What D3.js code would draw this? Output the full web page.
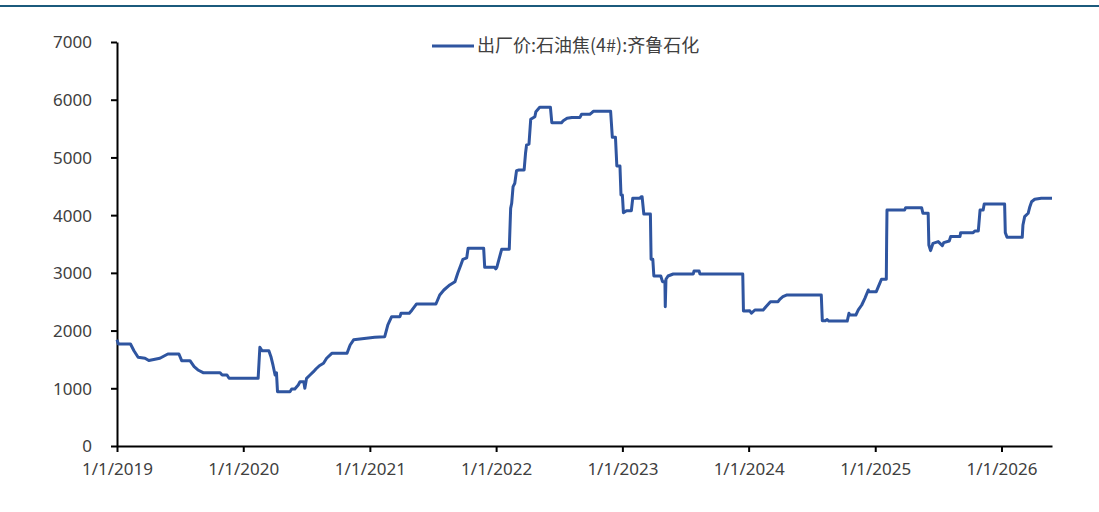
<!DOCTYPE html>
<html><head><meta charset="utf-8">
<script src="https://cdn.jsdelivr.net/npm/d3@7"></script>
<style>
html,body{margin:0;padding:0;background:#fff;}
svg{display:block;font-family:"Noto Sans CJK SC","Noto Sans",sans-serif;}
</style></head>
<body>
<svg id="c" width="1099" height="512"></svg>
<script>
const seriesName = "出厂价:石油焦(4#):齐鲁石化";
const dates = ["2019-01-01","2019-01-05","2019-02-09","2019-02-19","2019-03-03","2019-03-23","2019-04-03","2019-05-05","2019-05-28","2019-06-29","2019-07-07","2019-07-31","2019-08-12","2019-08-23","2019-09-07","2019-10-26","2019-11-01","2019-11-15","2019-11-21",
"2020-02-13","2020-02-18","2020-02-24","2020-03-15","2020-03-21","2020-03-27","2020-04-02","2020-04-06","2020-04-09","2020-05-15","2020-05-20","2020-05-29","2020-06-08","2020-06-13","2020-06-24","2020-06-27","2020-07-02","2020-07-12","2020-07-22","2020-07-29","2020-08-08","2020-08-20","2020-08-29","2020-09-13","2020-10-27","2020-11-05","2020-11-15",
"2021-01-15","2021-02-13","2021-02-22","2021-03-05","2021-03-29","2021-04-01","2021-04-25","2021-05-03","2021-05-16","2021-07-11","2021-07-22","2021-08-03","2021-08-20","2021-09-04","2021-09-12","2021-09-21","2021-09-27","2021-10-08","2021-10-12","2021-11-26","2021-11-29","2021-12-28","2021-12-31",
"2022-01-03","2022-01-17","2022-02-08","2022-02-12","2022-02-15","2022-02-19","2022-02-24","2022-03-01","2022-03-08","2022-03-23","2022-03-27","2022-03-30","2022-04-06","2022-04-11","2022-04-23","2022-04-26","2022-05-07","2022-06-07","2022-06-11","2022-07-09","2022-07-14","2022-07-25","2022-08-08","2022-08-31","2022-09-05","2022-09-29","2022-10-05","2022-10-09","2022-11-28","2022-12-03","2022-12-12","2022-12-16","2022-12-25","2022-12-28",
"2023-01-01","2023-01-04","2023-01-13","2023-01-27","2023-01-31","2023-02-20","2023-02-25","2023-02-27","2023-03-04","2023-03-23","2023-03-25","2023-03-30","2023-04-02","2023-04-22","2023-04-27","2023-05-04","2023-05-05","2023-05-07","2023-05-13","2023-05-28","2023-07-25","2023-07-27","2023-08-11","2023-08-13","2023-12-15","2023-12-17",
"2024-01-04","2024-01-09","2024-01-19","2024-02-12","2024-02-20","2024-03-04","2024-03-26","2024-03-31","2024-04-09","2024-04-21","2024-07-29","2024-08-01","2024-08-10","2024-08-15","2024-08-20","2024-10-12","2024-10-17","2024-10-20","2024-11-06","2024-11-13","2024-11-23","2024-12-02","2024-12-12","2024-12-14",
"2025-01-04","2025-01-14","2025-01-19","2025-02-02","2025-02-03","2025-02-04","2025-03-27","2025-03-30","2025-05-15","2025-05-19","2025-06-03","2025-06-05","2025-06-10","2025-06-17","2025-07-02","2025-07-14","2025-07-18","2025-08-03","2025-08-07","2025-09-03","2025-09-05","2025-10-11","2025-10-16","2025-10-26","2025-10-31","2025-11-09","2025-11-12",
"2026-01-10","2026-01-12","2026-01-17","2026-03-02","2026-03-04","2026-03-09","2026-03-19","2026-03-24","2026-03-29","2026-04-07","2026-04-26","2026-05-27"];
const values = [1840,1767,1767,1650,1537,1520,1480,1520,1594,1594,1478,1478,1374,1317,1270,1270,1230,1230,1173,
1173,1710,1652,1652,1548,1400,1230,1270,941,941,988,988,1057,1114,1114,1000,1173,1230,1288,1334,1391,1433,1520,1606,1606,1750,1840,
1883,1895,2100,2241,2241,2299,2299,2357,2461,2461,2617,2703,2790,2847,2993,3136,3235,3260,3425,3425,3096,3096,3070,
3096,3408,3408,4118,4205,4494,4552,4771,4783,4783,5072,5216,5230,5661,5706,5793,5869,5869,5602,5602,5637,5678,5690,5690,5748,5748,5776,5800,5800,5349,5349,4852,4852,4349,
4349,4043,4078,4078,4292,4292,4320,4320,4020,4020,3235,3235,2946,2946,2847,2847,2414,2889,2946,2980,2980,3032,3032,2980,2980,2339,
2345,2300,2357,2357,2414,2500,2500,2542,2587,2617,2617,2171,2171,2190,2165,2165,2299,2270,2270,2357,2443,2559,2703,2674,
2674,2819,2889,2889,3582,4089,4089,4130,4130,4032,4032,3483,3385,3512,3541,3471,3523,3552,3628,3628,3697,3697,3726,3726,4089,4089,4193,
4193,3697,3616,3616,3830,3974,4032,4147,4233,4275,4292,4292];
const xTickDates = ["2019-01-01","2020-01-01","2021-01-01","2022-01-01","2023-01-01","2024-01-01","2025-01-01","2026-01-01"];
const yTicks = [0,1000,2000,3000,4000,5000,6000,7000];
const xStart = "2019-01-01", xEnd = "2026-05-27";

const parse = d3.utcParse("%Y-%m-%d");
const data = dates.map((d,i)=>({date:parse(d), value:values[i]}));

const svg = d3.select("#c");
const W = 1099, H = 512;
const mLeft = 117, mRight = 1052, mTop = 42, mBottom = 446;

// top rule
svg.append("line").attr("x1",0).attr("x2",W).attr("y1",6).attr("y2",6)
  .attr("stroke","#1b5a7c").attr("stroke-width",2);

const x = d3.scaleUtc().domain([parse(xStart), parse(xEnd)]).range([mLeft, mRight]);
const y = d3.scaleLinear().domain([0,7000]).range([mBottom, mTop]);

const fmt = d3.utcFormat("%-m/%-d/%Y");

const xAxis = svg.append("g").attr("transform",`translate(0,${mBottom})`)
  .call(d3.axisBottom(x).tickValues(xTickDates.map(parse)).tickFormat(fmt).tickSize(6).tickSizeOuter(0).tickPadding(11));
const yAxis = svg.append("g").attr("transform",`translate(${mLeft},0)`)
  .call(d3.axisLeft(y).tickValues(yTicks).tickFormat(d3.format("d")).tickSize(6).tickSizeOuter(0).tickPadding(19));

[xAxis,yAxis].forEach(g=>{
  g.select(".domain").attr("stroke","#000").attr("stroke-width",2);
  g.selectAll(".tick line").attr("stroke","#000").attr("stroke-width",2);
  g.selectAll(".tick text").attr("fill","#404040").style("font-size","17px")
   .style("font-family",'"Noto Sans","Noto Sans CJK SC",sans-serif');
});
yAxis.selectAll(".tick text").attr("dy","0.35em");

const line = d3.line().x(d=>x(d.date)).y(d=>y(d.value));
svg.append("path").datum(data).attr("d",line)
  .attr("fill","none").attr("stroke","#2f55a0").attr("stroke-width",3).attr("stroke-linejoin","round");

// legend
const lg = svg.append("g");
lg.append("line").attr("x1",432).attr("x2",474).attr("y1",46).attr("y2",46)
  .attr("stroke","#2f55a0").attr("stroke-width",3);
lg.append("text").attr("x",477).attr("y",46).attr("dy","0.35em")
  .attr("fill","#404040").style("font-size","18px").text(seriesName);
</script>
</body></html>
